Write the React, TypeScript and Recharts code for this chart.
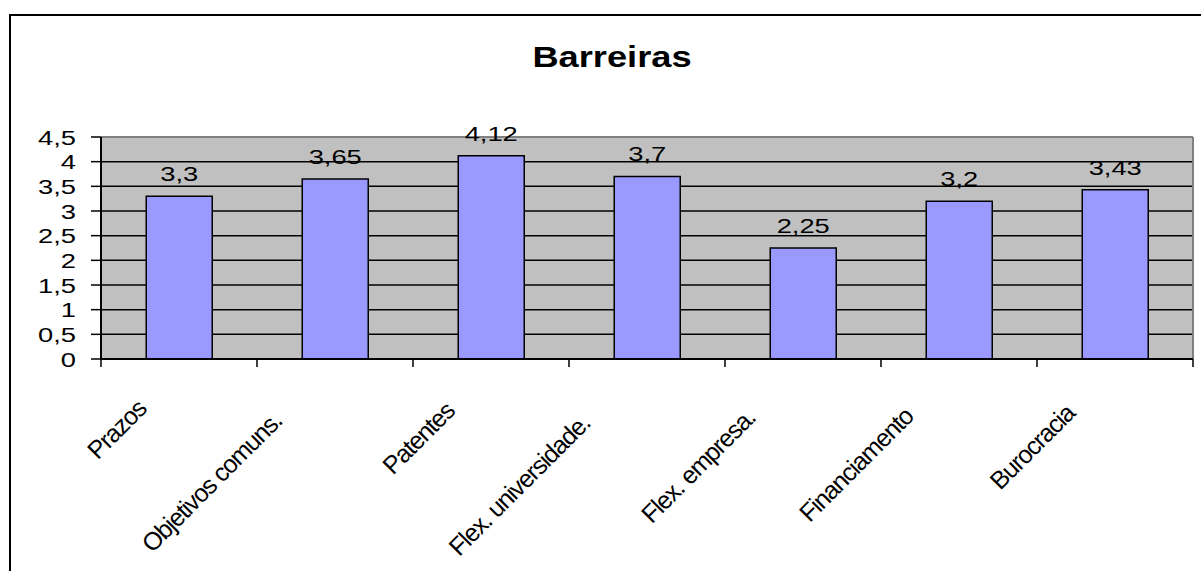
import { BarChart, Bar, XAxis, YAxis, CartesianGrid, LabelList } from 'recharts'

const categories = [
  'Prazos',
  'Objetivos comuns.',
  'Patentes',
  'Flex. universidade.',
  'Flex. empresa.',
  'Financiamento',
  'Burocracia',
]
const values = [3.3, 3.65, 4.12, 3.7, 2.25, 3.2, 3.43]
const yTicks = [0, 0.5, 1, 1.5, 2, 2.5, 3, 3.5, 4, 4.5]

const data = categories.map((name, i) => ({ name, value: values[i] }))

const FONT = '"Liberation Sans", Arial, sans-serif'
const fmt = (v: number) => String(v).replace('.', ',')

const YTick = ({ x, y, payload }: any) => (
  <text
    transform={`translate(${x},${y}) scale(1.3,1)`}
    textAnchor="end"
    dy="0.36em"
    fontSize={21}
    fontFamily={FONT}
    fill="#000"
  >
    {fmt(payload.value)}
  </text>
)

// category labels rotated 45°, plus tick marks at the category boundaries
const XTick = ({ x, y, payload, index }: any) => {
  const half = payload.offset || 0
  const len = String(payload.value).length * 11
  const ex = x - (20 + 0.17 * len)
  const ey = y + 45 + 0.1 * len
  const last = index === categories.length - 1
  return (
    <g>
      <line x1={x - half} x2={x - half} y1={y} y2={y + 8} stroke="#000" strokeWidth={1.5} />
      {last && <line x1={x + half} x2={x + half} y1={y} y2={y + 8} stroke="#000" strokeWidth={1.5} />}
      <text
        transform={`translate(${ex},${ey}) rotate(-45)`}
        textAnchor="end"
        fontSize={25}
        letterSpacing={-1.2}
        fontFamily={FONT}
        fill="#000"
      >
        {payload.value}
      </text>
    </g>
  )
}

const ValueLabel = ({ x, y, width, value }: any) => (
  <text
    transform={`translate(${x + width / 2},${y - 15}) scale(1.3,1)`}
    textAnchor="middle"
    fontSize={21}
    fontFamily={FONT}
    fill="#000"
  >
    {fmt(value)}
  </text>
)

export default function App() {
  return (
    <div style={{ position: 'absolute', left: 0, top: 0, width: 1201, height: 571, overflow: 'hidden', background: '#fff' }}>
      <div style={{ position: 'absolute', left: 9, top: 14, width: 1220, height: 620, border: '2px solid #000' }} />
      <svg width={1201} height={100} style={{ position: 'absolute', left: 0, top: 0 }}>
        <text
          transform="translate(612,67) scale(1.25,1)"
          textAnchor="middle"
          fontSize={29}
          fontWeight="bold"
          fontFamily={FONT}
          fill="#000"
        >
          Barreiras
        </text>
      </svg>
      <div style={{ position: 'absolute', left: 0, top: 0 }}>
        <BarChart
          width={1201}
          height={571}
          data={data}
          margin={{ top: 137, right: 8, left: 41, bottom: 12 }}
          barCategoryGap="29%"
        >
          <CartesianGrid fill="#C0C0C0" stroke="#000" strokeWidth={1.5} vertical={false} />
          <CartesianGrid
            stroke="#808080"
            strokeWidth={2}
            horizontalCoordinatesGenerator={({ offset }: any) => [offset.top]}
            verticalCoordinatesGenerator={({ offset }: any) => [offset.left + offset.width]}
          />
          <XAxis
            dataKey="name"
            height={200}
            interval={0}
            tickSize={0}
            tickMargin={0}
            tickLine={false}
            axisLine={{ stroke: '#000', strokeWidth: 2 }}
            tick={<XTick />}
          />
          <YAxis
            width={60}
            domain={[0, 4.5]}
            ticks={yTicks}
            interval={0}
            tickSize={10}
            tickMargin={15}
            tickLine={{ stroke: '#000', strokeWidth: 1.5 }}
            axisLine={{ stroke: '#000', strokeWidth: 2 }}
            tick={<YTick />}
          />
          <Bar dataKey="value" fill="#9999FF" stroke="#000" strokeWidth={1.5} isAnimationActive={false}>
            <LabelList dataKey="value" content={<ValueLabel />} />
          </Bar>
        </BarChart>
      </div>
    </div>
  )
}
